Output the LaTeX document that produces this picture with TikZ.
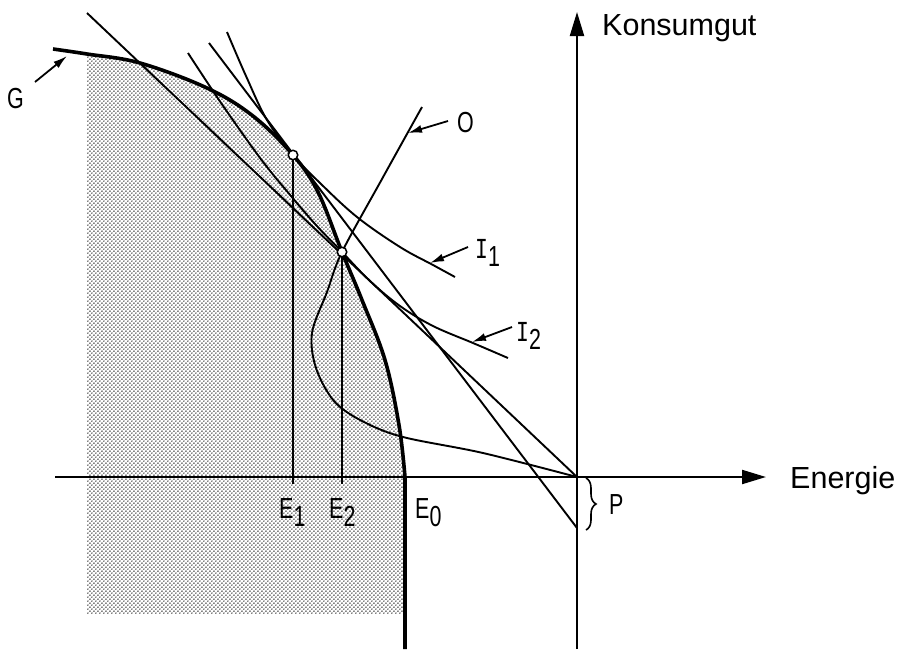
\documentclass[tikz,border=0pt]{standalone}
\usepackage{fontspec}
\setmainfont{Liberation Sans}
\newfontfamily\monof{Liberation Mono}
\usetikzlibrary{arrows.meta,decorations.pathreplacing,patterns}
\pgfdeclarepatternformonly{mydots}{\pgfqpoint{0pt}{0pt}}{\pgfqpoint{4.4pt}{4.4pt}}{\pgfqpoint{4.4pt}{4.4pt}}{%
 \pgfpathcircle{\pgfqpoint{1.1pt}{1.1pt}}{0.85pt}%
 \pgfpathcircle{\pgfqpoint{3.3pt}{3.3pt}}{0.85pt}%
 \pgfusepath{fill}}
\newcommand\cond[1]{\scalebox{0.74}[1]{#1}}
\newcommand\low[1]{\raisebox{-0.3em}{#1}}
\tikzset{
 lbl/.style={font=\fontsize{29}{29}\selectfont, inner sep=0pt, anchor=base west},
 axl/.style={font=\fontsize{30.5}{30}\selectfont, inner sep=0pt, anchor=base west},
 thinl/.style={line width=1.9pt},
 thickl/.style={line width=3.6pt},
 ptr/.style={line width=1.8pt, -{Latex[length=14pt,width=8pt]}},
 axisl/.style={line width=2.1pt, -{Triangle[length=24pt,width=14pt]}},
 eqpt/.style={circle, draw, fill=white, line width=1.5pt, inner sep=0pt, minimum size=9.5pt}
}
\begin{document}
\begin{tikzpicture}[x=1pt,y=-1pt]
\useasboundingbox (0,0) rectangle (903,649);
% shaded feasible region
\begin{scope}
\clip (87,0) rectangle (405,613);
\fill[pattern=mydots, pattern color=black] plot[smooth, tension=0.6] coordinates {(53,49) (87,54) (140,63) (207,88) (253,116) (293,155) (318,192) (342,252) (362,300) (385,360) (399,425) (405,477)} -- (405,649) -- (53,649) -- cycle;
\end{scope}
% axes
\coordinate (orig) at (577,477);
\coordinate (ybot) at (577,649);
\coordinate (ytop) at (577,12);
\coordinate (xleft) at (55,477);
\coordinate (xright) at (766,477);
\draw[axisl] (ybot) -- (ytop);
\draw[axisl] (xleft) -- (xright);
\node[axl] (ky) at (602,35) {Konsumgut};
\node[axl] (ex) at (790,488) {Energie};
% price lines
\coordinate (aTop) at (87,13);
\draw[thinl] (aTop) -- (orig);
\coordinate (bTop) at (209,43);
\coordinate (Pb) at (577,528);
\draw[thinl] (bTop) -- (Pb);
% indifference curves
\draw[thinl] plot[smooth, tension=0.6] coordinates {(227,32) (246,76) (267,120) (293,155) (320,183) (357,217) (400,247) (433,265) (455,277)};
\draw[thinl] plot[smooth, tension=0.6] coordinates {(188,53) (217,97) (247,140) (267,167) (291,196) (316,225) (342,252) (370,281) (400,306) (433,326) (473,343) (508,358)};
% offer curve O
\draw[thinl] plot[smooth, tension=0.55] coordinates {(422,107) (382,179) (342,252) (327,292) (312,333) (316,368) (334,401) (362,421) (403,437) (483,453) (577,477)};
% frontier G
\draw[thickl] plot[smooth, tension=0.6] coordinates {(53,49) (87,54) (140,63) (207,88) (253,116) (293,155) (318,192) (342,252) (362,300) (385,360) (399,425) (405,477)} -- (405,649);
% drop lines
\coordinate (E1b) at (293,484);
\coordinate (E2b) at (342,484);
\draw[thinl] (293,155) -- (E1b);
\draw[thinl] (342,252) -- (E2b);
\node[eqpt] (E1) at (293,155) {};
\node[eqpt] (E2) at (342,252) {};
% labels
\node[lbl] (lE1) at (279,518) {\cond{E\low{1}}};
\node[lbl] (lE2) at (329,518) {\cond{E\low{2}}};
\node[lbl] (lE0) at (415,518) {\cond{E\low{0}}};
\node[lbl] (lP) at (609,514) {\cond{P}};
\node[lbl] (lG) at (7,108) {\cond{G}};
\node[lbl] (lO) at (457,132) {\cond{O}};
\node[lbl] (lI1) at (475,258) {\cond{{\monof I}\low{1}}};
\node[lbl] (lI2) at (516,341) {\cond{{\monof I}\low{2}}};
% pointers
\coordinate (gS) at (35,82); \coordinate (gT) at (67,56);
\draw[ptr] (gS) -- (gT);
\coordinate (oS) at (448,121); \coordinate (oT) at (408,133);
\draw[ptr] (oS) -- (oT);
\coordinate (i1S) at (468,247); \coordinate (i1T) at (430,263);
\draw[ptr] (i1S) -- (i1T);
\coordinate (i2S) at (512,327); \coordinate (i2T) at (472,342);
\draw[ptr] (i2S) -- (i2T);
% brace
\coordinate (brT) at (586,478); \coordinate (brB) at (586,530);
\draw[line width=1.6pt, decorate, decoration={brace, amplitude=10pt}] (brT) -- (brB);
\end{tikzpicture}
\end{document}
